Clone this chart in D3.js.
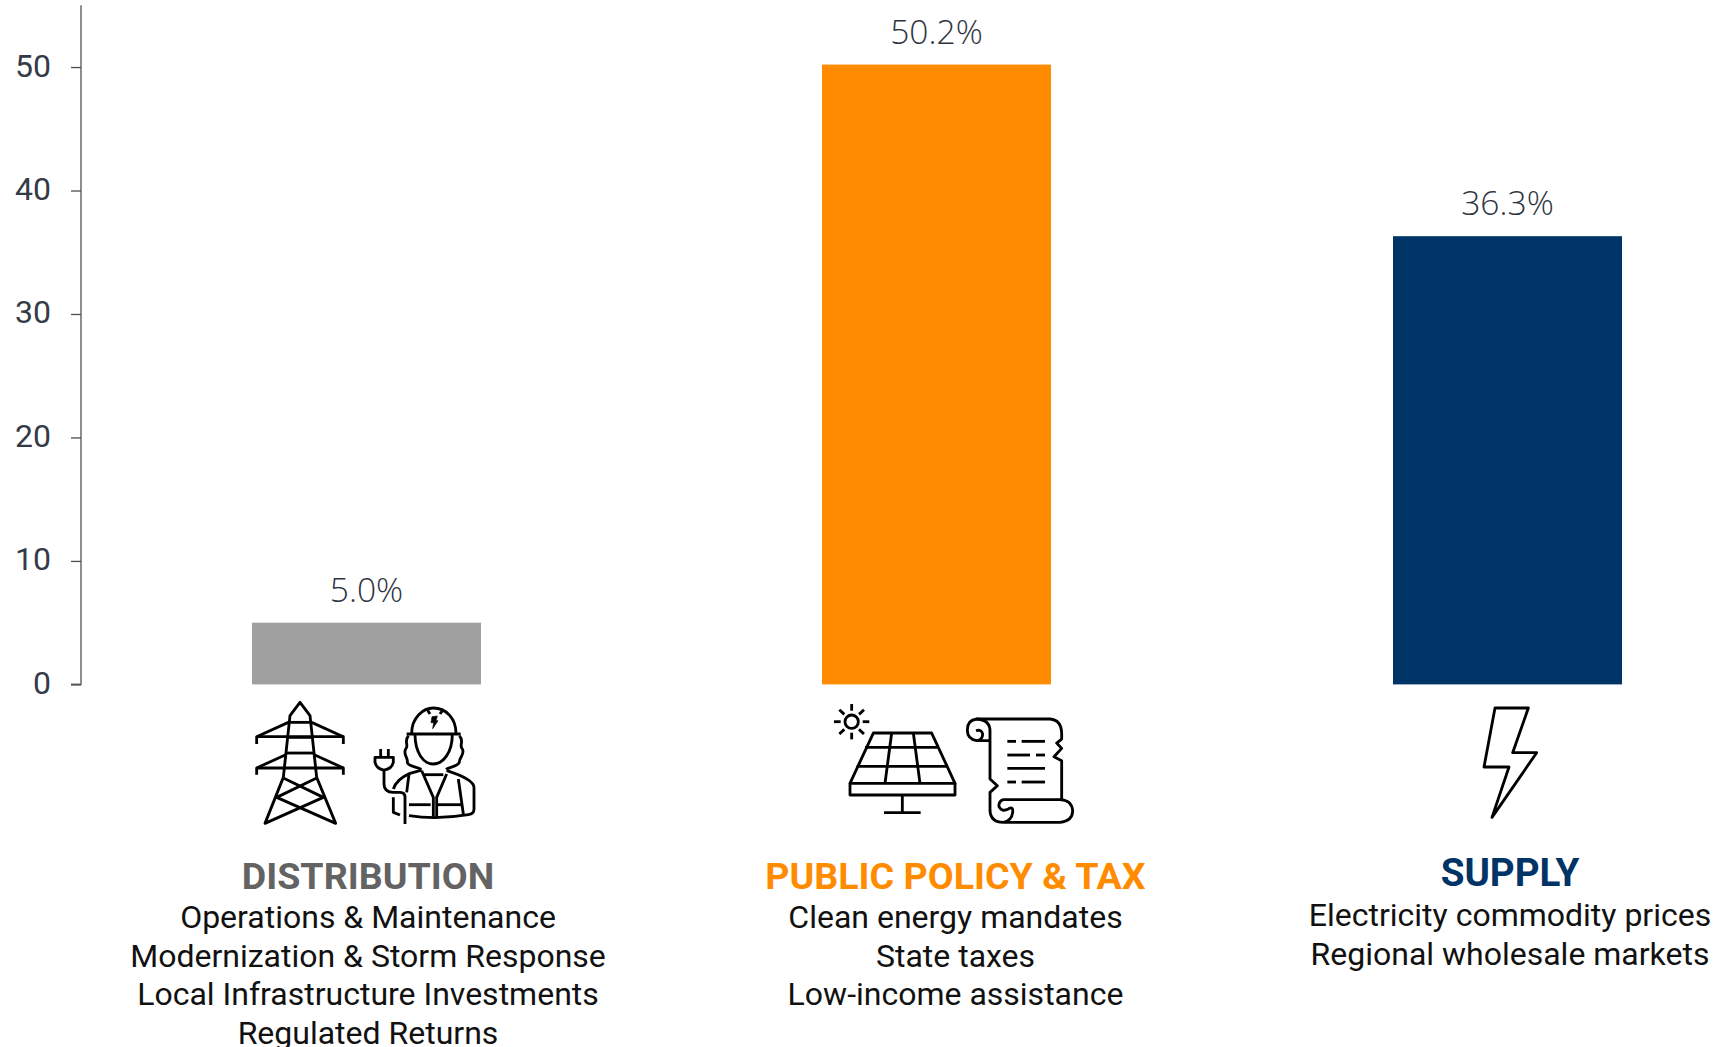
<!DOCTYPE html>
<html><head><meta charset="utf-8">
<script src="https://cdn.jsdelivr.net/npm/d3@7"></script>
<style>html,body{margin:0;background:#fff}svg{display:block}</style></head>
<body><svg id="c" width="1716" height="1047"></svg>
<script>
const categories = ["DISTRIBUTION","PUBLIC POLICY & TAX","SUPPLY"];
const values = [5.0,50.2,36.3];
const valueLabels = ["5.0%","50.2%","36.3%"];
const barColors = ["#a0a0a0","#ff8c00","#003366"];
const titleColors = ["#636363","#ff8c00","#003366"];
const tickValues = [0,10,20,30,40,50];
const distLines = ["Operations & Maintenance","Modernization & Storm Response","Local Infrastructure Investments","Regulated Returns"];
const policyLines = ["Clean energy mandates","State taxes","Low-income assistance"];
const supplyLines = ["Electricity commodity prices","Regional wholesale markets"];
const descLines = [distLines,policyLines,supplyLines];

const svg = d3.select("#c");
const xc = d3.scaleOrdinal().domain(categories).range([366.5,936.5,1507.5]);
const y = d3.scaleLinear().domain([0,55]).range([684.4,5.3]);
const bw = 229;

const ax = svg.append("g").attr("transform","translate(81,0)").call(d3.axisLeft(y).tickValues(tickValues).tickSize(10).tickPadding(20));
ax.select(".domain").attr("stroke","#6f747b").attr("stroke-width",1.6).attr("d",`M-10,${y(0)}H0V${y(55)}`);
ax.selectAll(".tick line").attr("stroke","#4a4f57").attr("stroke-width",1.3);
ax.selectAll(".tick text").attr("font-family","Roboto").attr("font-size",32).attr("fill","#343b47").attr("dy","0.28em");

svg.selectAll("rect.bar").data(categories).join("rect").attr("class","bar")
  .attr("x",d=>xc(d)-bw/2).attr("width",bw)
  .attr("y",(d,i)=>y(values[i])).attr("height",(d,i)=>y(0)-y(values[i]))
  .attr("fill",(d,i)=>barColors[i]);

svg.selectAll("text.val").data(categories).join("text").attr("class","val")
  .attr("x",d=>xc(d)).attr("y",(d,i)=>y(values[i])-21)
  .attr("text-anchor","middle").attr("font-family","Open Sans").attr("font-weight",300)
  .attr("font-size",33.6).attr("fill","#2f353f").text((d,i)=>valueLabels[i]);

const tx = [368,955.5,1510];
const ty = [888.5,888.5,885.5];
const ly = [[927.5,966.5,1005,1043.5],[927.5,966.5,1005],[925.5,964.5]];
const titleSize = [37.6,37.6,38.6];
categories.forEach((c,i)=>{
  svg.append("text").attr("class","title").attr("x",tx[i]).attr("y",ty[i]).attr("text-anchor","middle")
    .attr("font-family","Roboto").attr("font-weight",700).attr("font-size",titleSize[i]).attr("fill",titleColors[i]).text(c);
  descLines[i].forEach((t,j)=>{
    svg.append("text").attr("x",tx[i]).attr("y",ly[i][j]).attr("text-anchor","middle")
      .attr("font-family","Roboto").attr("font-size",32).attr("fill","#111").text(t);
  });
});

// icons, sketched in 3x pixel space
function icon(ox,oy,paths){
  const g = svg.append("g").attr("transform",`translate(${ox},${oy+0.7}) scale(${1/3})`)
    .attr("fill","none").attr("stroke","#000").attr("stroke-width",8.5).attr("stroke-linejoin","round");
  paths.forEach(d=>g.append("path").attr("d",d));
  return g;
}
const towerG = icon(220,680,[
 "M190,290L210,105L240,65L270,105L290,290","M190,290L135,428L310,350L190,292","M290,290L347,428L170,350L290,292",
 "M210,125H270","M205,170H275","M200,217H280",
 "M205,125L110,168V190","M110,168H370V190","M275,125L370,168",
 "M197,222L110,262V282","M110,262H370V282","M283,222L370,262",
 // worker
 "M575,158C575,110 610,82 640,82C680,82 708,115 708,158","M560,160H722",
 "M620,84L630,100","M670,86L660,100",
 "M585,160C585,215 610,250 640,250C670,250 697,215 697,160",
 "M566,165C550,180 568,195 557,205C548,220 565,232 562,245C565,258 590,258 604,266",
 "M718,165C734,180 716,195 727,205C736,220 716,232 718,245C712,258 690,258 678,266",
 "M482,205V230","M505,205V230","M465,230H520V245Q515,265 492,268Q470,265 465,245Z",
 "M492,268V310Q492,335 520,335H540Q555,335 555,350V430",
 "M520,325Q530,295 570,278L605,268","M680,270Q760,295 762,320V385Q762,400 745,402Q650,418 567,405",
 "M520,350V395L540,403","M605,270L640,350V408","M680,280L650,350V408","M567,280L560,335","M715,295L730,400",
 "M567,372H632","M650,372H725","M610,282H670"
]);
towerG.append("path").attr("d","M636,108L652,106L648,120L654,120L638,144L641,126L633,126Z").attr("fill","#000").attr("stroke-width",2);
icon(800,680,[
 "M135,123a20,20 0 1,0 40,0a20,20 0 1,0 -40,0",
 "M155,70V90","M155,156V176","M102,123H122","M188,123H208","M118,87L133,101","M192,87L177,101","M118,160L133,146","M192,160L177,146",
 "M220,157H395L465,308H150Z","M150,308V343H465V308","M195,200H415","M170,257H440","M275,157L255,308","M340,157L360,308",
 "M307,343V395","M252,396H362",
 "M530,115H750Q785,118 785,160V175L770,187L785,203L762,228L785,240V357",
 "M570,180H530Q502,175 502,148Q502,118 530,115Q570,118 570,150V295L592,315L570,335V390Q572,425 610,425H780Q818,420 818,390Q815,358 780,357H610Q595,362 597,378Q605,395 625,385Q640,375 638,395Q635,420 610,425",
 "M528,150Q545,145 548,160Q548,178 530,180",
 "M622,182H648","M665,182H735","M622,223H690","M708,223H735","M622,263H735","M622,304H648","M665,304H735"
]);
icon(1400,680,["M285,82H385L338,216H410L276,410L327,259H252Z"]);
</script></body></html>
